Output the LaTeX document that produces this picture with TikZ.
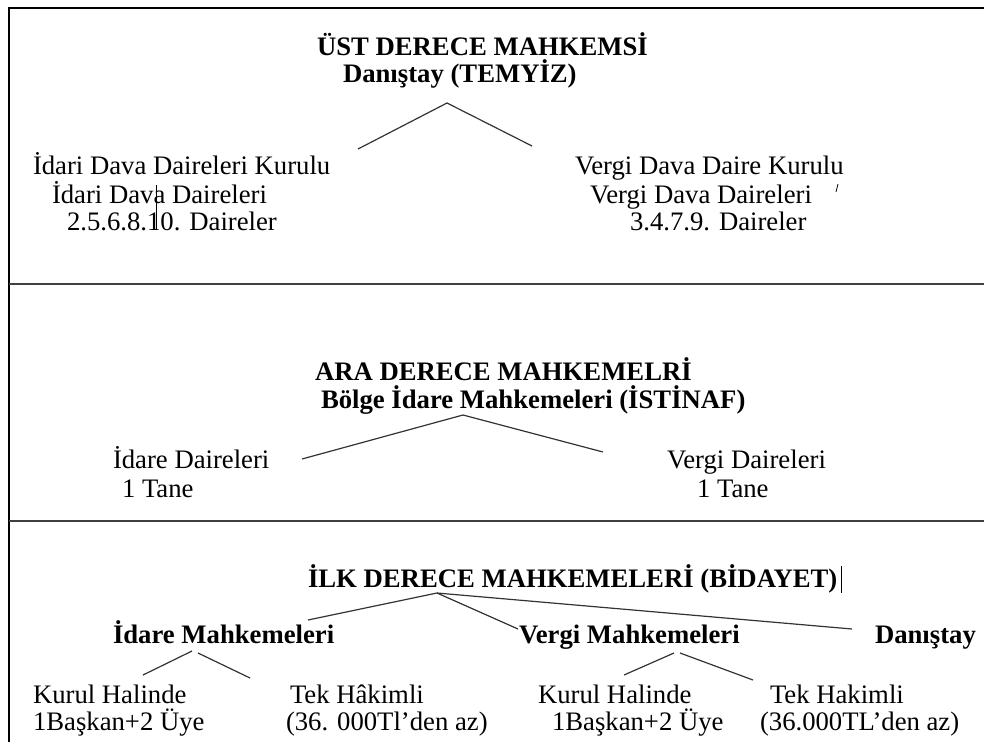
\documentclass[tikz,border=0pt]{standalone}
\usepackage{fontspec}
\setmainfont{Liberation Serif}
\newfontfamily\tnrfont{Liberation Serif}
\begin{document}
\begin{tikzpicture}[x=1pt,y=-1pt,
  txt/.style={anchor=base west,inner sep=0pt,outer sep=0pt,font=\tnrfont\fontsize{26.7}{30}\selectfont},
  btxt/.style={anchor=base west,inner sep=0pt,outer sep=0pt,font=\tnrfont\fontsize{26.7}{30}\selectfont\bfseries},
  conn/.style={line width=1.2pt,draw=black!80},
  framel/.style={line width=2pt,draw=black},
  divider/.style={line width=1.5pt,draw=black!75},
  cursor/.style={line width=0.8pt,draw=black}]
\useasboundingbox (0,0) rectangle (984,742);
% frame and dividers
\coordinate (ftr) at (984,8);
\coordinate (ftl) at (9,8);
\coordinate (fbl) at (9,742);
\draw[framel] (ftr) -- (ftl) -- (fbl);
\coordinate (d1l) at (9,284); \coordinate (d1r) at (984,284);
\coordinate (d2l) at (9,521); \coordinate (d2r) at (984,521);
\draw[divider] (d1l) -- (d1r);
\draw[divider] (d2l) -- (d2r);
% top section
\node[btxt] (t1) at (317,55) {ÜST DERECE MAHKEMSİ};
\node[btxt] (t2) at (343,82) {Danıştay (TEMYİZ)};
\coordinate (ta) at (447,103);
\coordinate (tl) at (358,149);
\coordinate (tr) at (532,146);
\draw[conn] (tl) -- (ta) -- (tr);
\node[txt] (l1) at (33,174) {İdari Dava Daireleri Kurulu};
\node[txt] (l2) at (52,203) {İdari Dava Daireleri};
\node[txt] (l3) at (67,230) {2.5.6.8.10. Daireler};
\coordinate (c1a) at (156,185); \coordinate (c1b) at (156,230);
\draw[cursor] (c1a) -- (c1b);
\node[txt] (r1) at (575,174) {Vergi Dava Daire Kurulu};
\node[txt] (r2) at (590,203) {Vergi Dava Daireleri};
\node[txt] (r3) at (630,230) {3.4.7.9. Daireler};
\coordinate (tk1) at (836,192); \coordinate (tk2) at (838,184);
\draw[cursor] (tk1) -- (tk2);
% middle section
\node[btxt] (m1) at (315,380) {ARA DERECE MAHKEMELRİ};
\node[btxt] (m2) at (321,408) {Bölge İdare Mahkemeleri (İSTİNAF)};
\coordinate (ma) at (463,415);
\coordinate (ml) at (302,459);
\coordinate (mr) at (603,452);
\draw[conn] (ml) -- (ma) -- (mr);
\node[txt] (ml1) at (113,468) {İdare Daireleri};
\node[txt] (ml2) at (122,497) {1 Tane};
\node[txt] (mr1) at (667,468) {Vergi Daireleri};
\node[txt] (mr2) at (697,497) {1 Tane};
% bottom section
\node[btxt] (b1) at (308,587) {İLK DERECE MAHKEMELERİ (BİDAYET)};
\coordinate (c2a) at (841,566); \coordinate (c2b) at (841,593);
\draw[cursor] (c2a) -- (c2b);
\coordinate (ba) at (437,593);
\coordinate (bl) at (308,620);
\coordinate (bm) at (518,629);
\coordinate (br) at (852,629);
\draw[conn] (bl) -- (ba) -- (bm);
\draw[conn] (ba) -- (br);
\node[btxt] (bL) at (113,643) {İdare Mahkemeleri};
\node[btxt] (bM) at (519,643) {Vergi Mahkemeleri};
\node[btxt] (bR) at (875,643) {Danıştay};
\coordinate (s1a) at (192,651); \coordinate (s1b) at (143,675);
\coordinate (s2a) at (198,653); \coordinate (s2b) at (250,678);
\coordinate (s3a) at (674,653); \coordinate (s3b) at (624,675);
\coordinate (s4a) at (680,653); \coordinate (s4b) at (753,680);
\draw[conn] (s1a) -- (s1b);
\draw[conn] (s2a) -- (s2b);
\draw[conn] (s3a) -- (s3b);
\draw[conn] (s4a) -- (s4b);
\node[txt] (k1) at (33,703) {Kurul Halinde};
\node[txt] (k2) at (290,703) {Tek Hâkimli};
\node[txt] (k3) at (538,703) {Kurul Halinde};
\node[txt] (k4) at (770,703) {Tek Hakimli};
\node[txt] (u1) at (33,730) {1Başkan+2 Üye};
\node[txt] (u2) at (286,730) {(36. 000Tl’den az)};
\node[txt] (u3) at (552,730) {1Başkan+2 Üye};
\node[txt] (u4) at (760,730) {(36.000TL’den az)};
\end{tikzpicture}
\end{document}
